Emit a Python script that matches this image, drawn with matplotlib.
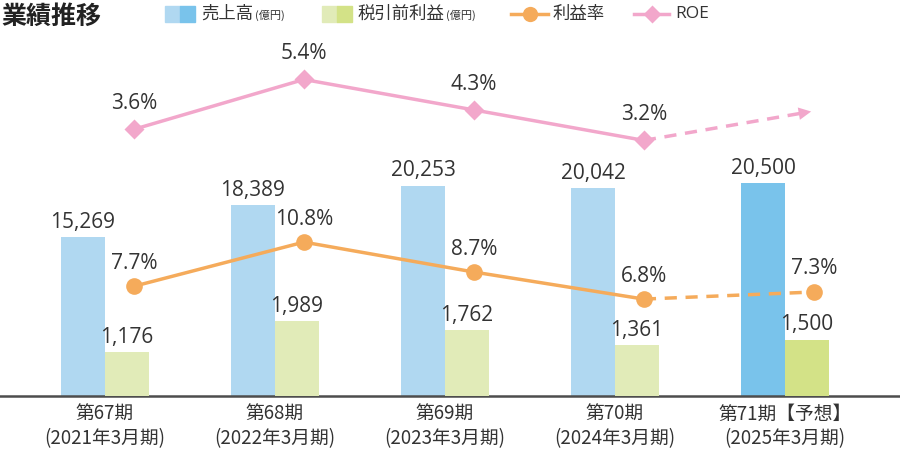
import numpy as np
import matplotlib.pyplot as plt
from matplotlib.patches import Rectangle
from matplotlib.lines import Line2D

plt.rcParams['font.family'] = ['Noto Sans CJK JP', 'DejaVu Sans']

periods = ['第67期', '第68期', '第69期', '第70期', '第71期【予想】']
fiscal = ['(2021年3月期)', '(2022年3月期)', '(2023年3月期)', '(2024年3月期)', '(2025年3月期)']
sales = [15269, 18389, 20253, 20042, 20500]
pretax = [1176, 1989, 1762, 1361, 1500]
margin = [7.7, 10.8, 8.7, 6.8, 7.3]
roe = [3.6, 5.4, 4.3, 3.2]
roe_arrow_end = 4.26   # forecast direction only, no label

BLUE = '#B0D8F1'
BLUE_F = '#79C3EB'
GREEN = '#E1EBB8'
GREEN_F = '#D3E287'
ORANGE = '#F5AB5B'
PINK = '#F2A7CB'
TXT = '#333333'
NUM_FONT = ['Open Sans', 'DejaVu Sans']

fig = plt.figure(figsize=(9, 4.51), dpi=100)
ax = fig.add_axes([0, 55 / 451, 1, 396 / 451])
ax_g = ax.twinx()
ax_p = ax.twinx()
ax_r = ax.twinx()

x = np.arange(len(sales))
w = 44 / 170
off = 0.17

for a in (ax, ax_g, ax_p, ax_r):
    a.set_xlim(-105 / 170, 795 / 170)
    a.patch.set_visible(False)
    for s in a.spines.values():
        s.set_visible(False)
    a.set_yticks([])

ax.set_ylim(0, 38114)
ax_g.set_ylim(0, 10532)
ax_p.set_ylim(0, 27.79)
ax_r.set_ylim(-6.03, 8.27)

# bars
bcol = [BLUE] * 4 + [BLUE_F]
gcol = [GREEN] * 4 + [GREEN_F]
ax.bar(x - w / 2, sales, width=w, color=bcol)
ax_g.bar(x + w / 2, pretax, width=w, color=gcol)
for i, v in enumerate(sales):
    ax.annotate(f'{v:,}', (x[i] - w / 2, v), xytext=(0, 3), textcoords='offset points',
                ha='center', va='bottom', fontsize=15, color=TXT, family=NUM_FONT)
for i, v in enumerate(pretax):
    ax_g.annotate(f'{v:,}', (x[i] + w / 2, v), xytext=(0, 3), textcoords='offset points',
                  ha='center', va='bottom', fontsize=15, color=TXT, family=NUM_FONT)

# profit margin line
xm = x + off
ax_p.plot(xm[:4], margin[:4], color=ORANGE, lw=2.5, marker='o', ms=12, mec='none')
ax_p.plot(xm[3:], margin[3:], color=ORANGE, lw=2.5, ls=(0, (3.5, 2.5)))
ax_p.plot(xm[4], margin[4], color=ORANGE, marker='o', ms=12, mec='none', ls='none')
for i, v in enumerate(margin):
    ax_p.annotate(f'{v}%', (xm[i], v), xytext=(0, 9), textcoords='offset points',
                  ha='center', va='bottom', fontsize=15, color=TXT, family=NUM_FONT)

# ROE line
xr = xm[:4]
ax_r.plot(xr, roe, color=PINK, lw=2.5, marker='D', ms=10, mec='none')
end_x = x[4] + off
slope = (roe_arrow_end - roe[3]) / (end_x - xr[3])
ax_r.plot([xr[3], end_x - 0.08], [roe[3], roe_arrow_end - 0.08 * slope],
          color=PINK, lw=2.5, ls=(0, (3.5, 2.5)))
ax_r.annotate('', xy=(end_x, roe_arrow_end), xytext=(end_x - 0.09, roe_arrow_end - 0.09 * slope),
              arrowprops=dict(arrowstyle='-|>,head_length=0.9,head_width=0.45', color=PINK, lw=0))
for i, v in enumerate(roe):
    ax_r.annotate(f'{v}%', (xr[i], v), xytext=(0, 11), textcoords='offset points',
                  ha='center', va='bottom', fontsize=15, color=TXT, family=NUM_FONT)

# baseline and category labels
ax.axhline(0, color='#4D4D4D', lw=1.8, clip_on=False)
ax.set_xticks(x)
ax.set_xticklabels([f'{p}\n{f}' for p, f in zip(periods, fiscal)], fontsize=13.5,
                   color=TXT, linespacing=1.2)
ax.tick_params(axis='x', length=0, pad=6)

# title and legend
fig.text(1 / 900, 1 - 17 / 451, '業績推移', fontsize=18, fontweight='bold', color='#222222', va='center')
ly = 1 - 14 / 451
lh = 16 / 451


def legend_text(x0, label, unit=None, fam=None):
    t = fig.text(x0 / 900, ly, label, fontsize=12.5, color=TXT, va='center',
                 family=fam if fam else plt.rcParams['font.family'])
    if unit:
        fig.add_artist(plt.Annotation(unit, xy=(1, 0.45), xycoords=t, xytext=(1, 0),
                                      textcoords='offset points', fontsize=8, color=TXT,
                                      va='center', ha='left'))


fig.add_artist(Rectangle((165 / 900, ly - lh / 2), 15 / 900, lh, color=BLUE, transform=fig.transFigure))
fig.add_artist(Rectangle((180 / 900, ly - lh / 2), 15 / 900, lh, color=BLUE_F, transform=fig.transFigure))
legend_text(201, '売上高', '(億円)')
fig.add_artist(Rectangle((322 / 900, ly - lh / 2), 15 / 900, lh, color=GREEN, transform=fig.transFigure))
fig.add_artist(Rectangle((337 / 900, ly - lh / 2), 15 / 900, lh, color=GREEN_F, transform=fig.transFigure))
legend_text(358, '税引前利益', '(億円)')
fig.add_artist(Line2D([511 / 900, 548 / 900], [ly, ly], color=ORANGE, lw=2.5, transform=fig.transFigure))
fig.add_artist(Line2D([529.5 / 900], [ly], color=ORANGE, marker='o', ms=11, mec='none',
                      transform=fig.transFigure))
legend_text(553, '利益率')
fig.add_artist(Line2D([634 / 900, 669 / 900], [ly, ly], color=PINK, lw=2.5, transform=fig.transFigure))
fig.add_artist(Line2D([651.5 / 900], [ly], color=PINK, marker='D', ms=9, mec='none',
                      transform=fig.transFigure))
legend_text(675, 'ROE', fam=NUM_FONT)

fig.savefig('out.png', dpi=100)
